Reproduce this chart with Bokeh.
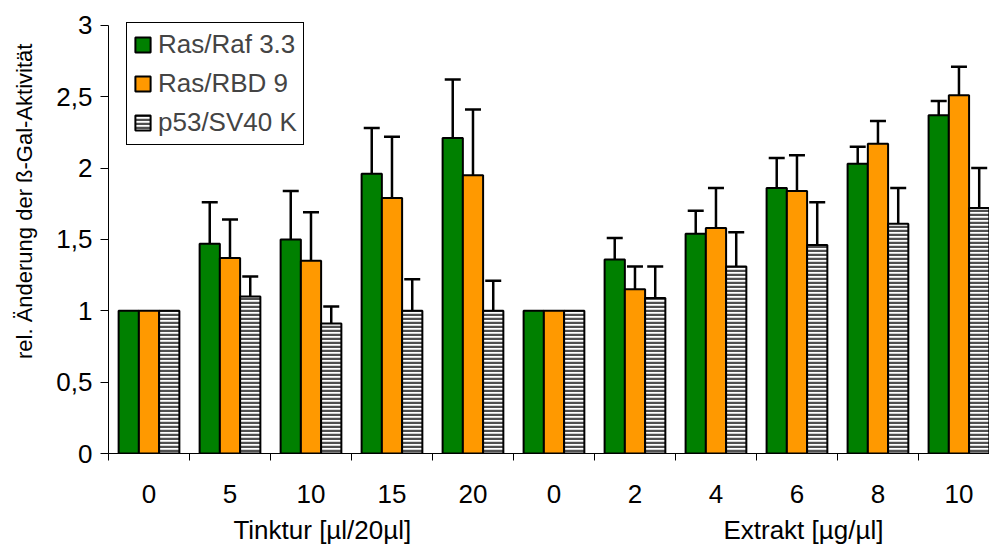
from bokeh.plotting import figure
from bokeh.models import (ColumnDataSource, Range1d, FixedTicker, LinearAxis,
                          Whisker, TeeHead, Legend, LegendItem)
from bokeh.embed import file_html
from bokeh.resources import INLINE

# Dose groups (Tinktur in µl/20µl, then Extrakt in µg/µl)
groups = ["0", "5", "10", "15", "20", "0", "2", "4", "6", "8", "10"]

# Relative change of beta-Gal activity and upward standard deviation
ras_raf = [1.00, 1.47, 1.50, 1.96, 2.21, 1.00, 1.36, 1.54, 1.86, 2.03, 2.37]
ras_raf_err = [0.00, 0.29, 0.34, 0.32, 0.41, 0.00, 0.15, 0.16, 0.21, 0.12, 0.10]

ras_rbd = [1.00, 1.37, 1.35, 1.79, 1.95, 1.00, 1.15, 1.58, 1.84, 2.17, 2.51]
ras_rbd_err = [0.00, 0.27, 0.34, 0.43, 0.46, 0.00, 0.16, 0.28, 0.25, 0.16, 0.20]

p53 = [1.00, 1.10, 0.91, 1.00, 1.00, 1.00, 1.09, 1.31, 1.46, 1.61, 1.72]
p53_err = [0.00, 0.14, 0.12, 0.22, 0.21, 0.00, 0.22, 0.24, 0.30, 0.25, 0.28]

series_names = ["Ras/Raf 3.3", "Ras/RBD 9", "p53/SV40 K"]

y_ticks = [0, 0.5, 1, 1.5, 2, 2.5, 3]
y_tick_labels = ["0", "0,5", "1", "1,5", "2", "2,5", "3"]
y_title = "rel. Änderung der ß-Gal-Aktivität"
y_title_pos = 1.767

section_titles = ["Tinktur [µl/20µl]", "Extrakt [µg/µl]"]
section_title_pos = [2.64, 8.58]

FONT = "Liberation Sans"

n = len(groups)
centers = [i + 0.5 for i in range(n)]
bar_w = 0.25

# frame: 881 px wide (81 px per group), 144 px per unit on y
p = figure(width=989, height=547,
           x_range=Range1d(0, 10.877), y_range=Range1d(0, 453 / 144),
           output_backend="svg", toolbar_location=None,
           min_border_left=108, min_border_right=0,
           min_border_top=4, min_border_bottom=90)
p.outline_line_color = None
p.xgrid.visible = False
p.ygrid.visible = False
p.background_fill_color = "white"
p.border_fill_color = "white"

styles = [
    dict(fill_color="#008000"),
    dict(fill_color="#FF9900"),
    dict(fill_color="white", hatch_pattern="-", hatch_color="#505050",
         hatch_scale=4, hatch_weight=2.5),
]
offsets = [-bar_w, 0.0, bar_w]
values = [ras_raf, ras_rbd, p53]
errors = [ras_raf_err, ras_rbd_err, p53_err]

items = []
for name, vals, errs, off, style in zip(series_names, values, errors, offsets, styles):
    xs = [c + off for c in centers]
    src = ColumnDataSource(dict(x=xs, top=vals))
    r = p.vbar(x="x", top="top", bottom=0, width=bar_w, source=src,
               line_color="black", line_width=2, **style)
    items.append(LegendItem(label=name, renderers=[r]))

    keep = [i for i, e in enumerate(errs) if e > 0]
    wsrc = ColumnDataSource(dict(
        base=[xs[i] for i in keep],
        lower=[vals[i] for i in keep],
        upper=[vals[i] + errs[i] for i in keep],
    ))
    w = Whisker(base="base", lower="lower", upper="upper", source=wsrc,
                dimension="height", line_color="black", line_width=2.5,
                upper_head=TeeHead(size=16, line_color="black", line_width=2.5),
                lower_head=None, level="annotation")
    p.add_layout(w)

legend = Legend(items=items, location="top_left", margin=18,
                border_line_color="black", border_line_width=1,
                border_line_alpha=1.0,
                background_fill_color="white", background_fill_alpha=1.0,
                label_text_font=FONT, label_text_font_size="26px",
                glyph_width=19, glyph_height=19, label_standoff=6,
                label_height=30, spacing=8, padding=6)
p.add_layout(legend)

# x axis: labels at group centres, tick marks between groups
xa = p.xaxis[0]
xa.ticker = FixedTicker(ticks=centers, minor_ticks=list(range(n + 1)))
xa.major_label_overrides = {c: g for c, g in zip(centers, groups)}
xa.major_tick_in = 0
xa.major_tick_out = 0
xa.minor_tick_in = 0
xa.minor_tick_out = 7
xa.minor_tick_line_color = "black"
xa.axis_line_color = "black"
xa.major_label_standoff = 24
xa.major_label_text_font = FONT
xa.major_label_text_font_size = "26px"
xa.major_label_text_color = "black"

# second row below: section titles
title_axis = LinearAxis(
    ticker=FixedTicker(ticks=section_title_pos, minor_ticks=[]),
    major_label_overrides={x: t for x, t in zip(section_title_pos, section_titles)},
    axis_line_color=None, major_tick_line_color=None, minor_tick_line_color=None,
    major_label_standoff=3, major_label_text_font=FONT,
    major_label_text_font_size="26px", major_label_text_color="black")
p.add_layout(title_axis, "below")

# y axis, line limited to 0..3
ya = p.yaxis[0]
ya.bounds = (0, 3)
ya.ticker = FixedTicker(ticks=y_ticks, minor_ticks=[])
ya.major_label_overrides = {t: s for t, s in zip(y_ticks, y_tick_labels)}
ya.major_tick_in = 0
ya.major_tick_out = 8
ya.minor_tick_line_color = None
ya.axis_line_color = "black"
ya.major_tick_line_color = "black"
ya.major_label_standoff = 8
ya.major_label_text_font = FONT
ya.major_label_text_font_size = "26px"
ya.major_label_text_color = "black"

# rotated y title as a bare outer axis
ytitle_axis = LinearAxis(
    ticker=FixedTicker(ticks=[y_title_pos], minor_ticks=[]),
    major_label_overrides={y_title_pos: y_title},
    major_label_orientation="parallel",
    axis_line_color=None, major_tick_line_color=None, minor_tick_line_color=None,
    major_label_standoff=10, major_label_text_font=FONT,
    major_label_text_font_size="22px", major_label_text_color="black")
p.add_layout(ytitle_axis, "left")

open("out.html", "w").write(file_html(p, INLINE))
